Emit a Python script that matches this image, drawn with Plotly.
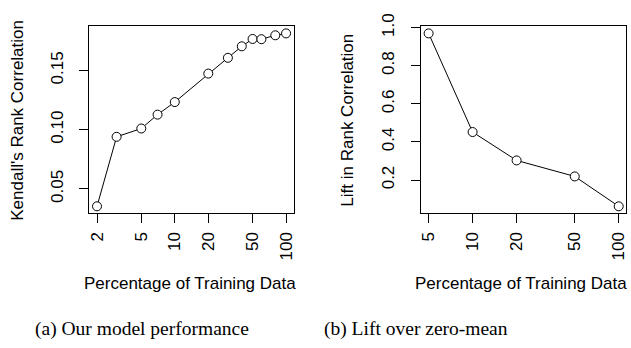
import plotly.graph_objects as go

# Panel (a): Our model performance
pct_a = [2, 3, 5, 7, 10, 20, 30, 40, 50, 60, 80, 100]
kendall = [0.0354, 0.094, 0.101, 0.1127, 0.1233, 0.1473, 0.1606, 0.1703, 0.1765, 0.1763, 0.1796, 0.1812]
xticks_a = [2, 5, 10, 20, 50, 100]
yticks_a = [0.05, 0.10, 0.15]

# Panel (b): Lift over zero-mean
pct_b = [5, 10, 20, 50, 100]
lift = [0.97, 0.452, 0.303, 0.219, 0.062]
xticks_b = [5, 10, 20, 50, 100]
yticks_b = [0.2, 0.4, 0.6, 0.8, 1.0]

W, H = 631, 348
SANS = "Liberation Sans, Arial, sans-serif"
SERIF = "Liberation Serif, Times New Roman, serif"
FS = 17

fig = go.Figure()
mk = dict(symbol="circle", size=9, color="white", line=dict(color="black", width=1))
fig.add_trace(go.Scatter(x=pct_a, y=kendall, mode="lines+markers",
                         line=dict(color="black", width=1), marker=mk,
                         xaxis="x", yaxis="y", showlegend=False))
fig.add_trace(go.Scatter(x=pct_b, y=lift, mode="lines+markers",
                         line=dict(color="black", width=1), marker=mk,
                         xaxis="x2", yaxis="y2", showlegend=False))

def rng(lo, hi, log=False):
    import math
    if log:
        lo, hi = math.log10(lo), math.log10(hi)
    d = (hi - lo) * 0.04
    return [lo - d, hi + d]

ydom = [(H - 208) / H, (H - 14) / H]
common = dict(showgrid=False, zeroline=False, showline=True, mirror=True,
              linecolor="black", linewidth=1, ticks="outside", ticklen=9,
              tickwidth=1, tickcolor="black",
              tickfont=dict(family=SANS, size=FS, color="black"))

fig.update_layout(
    width=W, height=H, margin=dict(l=0, r=0, t=0, b=0),
    plot_bgcolor="white", paper_bgcolor="white",
    xaxis=dict(domain=[88 / W, 293.5 / W], type="log", range=rng(min(pct_a), max(pct_a), True),
               tickvals=xticks_a, ticktext=[str(v) for v in xticks_a], tickangle=-90,
               anchor="y", ticklabelstandoff=2, **common),
    yaxis=dict(domain=ydom, range=rng(min(kendall), max(kendall)),
               tickvals=yticks_a, ticktext=["%.2f" % v for v in yticks_a], tickangle=-90,
               anchor="x", ticklabelstandoff=10, **common),
    xaxis2=dict(domain=[421.7 / W, 628.3 / W], type="log", range=rng(min(pct_b), max(pct_b), True),
                tickvals=xticks_b, ticktext=[str(v) for v in xticks_b], tickangle=-90,
                anchor="y2", ticklabelstandoff=2, **common),
    yaxis2=dict(domain=ydom, range=rng(min(lift), max(lift)),
                tickvals=yticks_b, ticktext=["%.1f" % v for v in yticks_b], tickangle=-90,
                anchor="x2", ticklabelstandoff=10, **common),
)

def ann(text, x, y, size, family, angle=0):
    fig.add_annotation(text=text, x=x / W, y=1 - y / H, xref="paper", yref="paper",
                       showarrow=False, textangle=angle, xanchor="center", yanchor="middle",
                       font=dict(family=family, size=size, color="black"))

ann("Kendall's Rank Correlation", 16, 111, FS, SANS, -90)
ann("Lift in Rank Correlation", 348, 111, FS, SANS, -90)
ann("Percentage of Training Data", 189, 281, FS, SANS)
ann("Percentage of Training Data", 522, 281, FS, SANS)
ann("(a) Our model performance", 141, 328, 19.5, SERIF)
ann("(b) Lift over zero-mean", 417, 328, 19.5, SERIF)

fig.write_html("out.html")
